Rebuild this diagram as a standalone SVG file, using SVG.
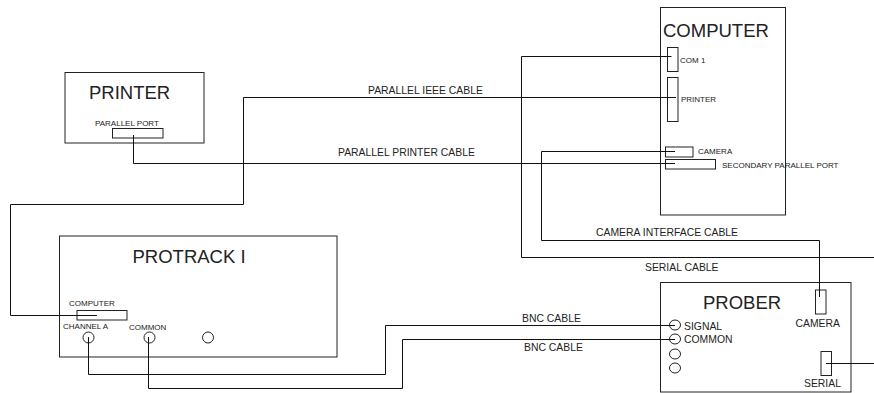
<svg xmlns="http://www.w3.org/2000/svg" width="874" height="393" viewBox="0 0 874 393">
<style>
.b{fill:none;stroke:#222;stroke-width:1}
.c{fill:none;stroke:#111;stroke-width:1}
text{font-family:"Liberation Sans",Arial,sans-serif;fill:#222}
.t{font-size:18.500px}
.s{font-size:8px}
.m{font-size:10.400px}
</style>
<rect width="874" height="393" fill="#fff"/>
<g id="computer">
<rect class="b" x="660.5" y="7.5" width="125" height="207.5"/>
<text class="t" x="663" y="37">COMPUTER</text>
<rect class="b" x="667.5" y="47.5" width="10.500" height="24"/>
<text class="s" x="680" y="63">COM 1</text>
<rect class="b" x="667.5" y="77.5" width="10.500" height="44"/>
<text class="s" x="681" y="102">PRINTER</text>
<rect class="b" x="665.500" y="147" width="27.500" height="10"/>
<text class="s" x="698" y="154">CAMERA</text>
<rect class="b" x="665.500" y="159.500" width="50" height="9.500"/>
<text class="s" x="722" y="168">SECONDARY PARALLEL PORT</text>
</g>
<g id="printer">
<rect class="b" x="65" y="72.500" width="139" height="70.500"/>
<text class="t" x="89" y="99">PRINTER</text>
<text class="s" x="95" y="126">PARALLEL PORT</text>
<rect class="b" x="112.500" y="128.500" width="50.500" height="9.500"/>
</g>
<g id="protrack">
<rect class="b" x="59.500" y="236" width="277.500" height="121"/>
<text class="t" x="132.500" y="263">PROTRACK I</text>
<text class="s" x="69" y="306">COMPUTER</text>
<rect class="b" x="77" y="310.500" width="50" height="9.500"/>
<text class="s" x="63" y="329">CHANNEL A</text>
<text class="s" x="129" y="330">COMMON</text>
<circle class="b" cx="88.500" cy="337.500" r="5.500"/>
<circle class="b" cx="149.500" cy="337.500" r="5.500"/>
<circle class="b" cx="208" cy="337.500" r="5.500"/>
</g>
<g id="prober">
<rect class="b" x="660.500" y="282.500" width="190.500" height="109.500"/>
<text class="t" x="703" y="309">PROBER</text>
<text class="m" x="684" y="330">SIGNAL</text>
<text class="m" x="684" y="343">COMMON</text>
<ellipse class="b" cx="675" cy="325" rx="5.500" ry="5"/>
<ellipse class="b" cx="675" cy="339" rx="5.500" ry="5"/>
<ellipse class="b" cx="675" cy="354" rx="5.500" ry="5"/>
<ellipse class="b" cx="675" cy="368" rx="5.500" ry="5"/>
<rect class="b" x="815.500" y="290" width="10.500" height="24"/>
<text class="m" x="795.500" y="327">CAMERA</text>
<rect class="b" x="821" y="351.500" width="10.500" height="24"/>
<text class="m" x="804" y="387">SERIAL</text>
</g>
<g id="connectors">
<path class="c" d="M671.500 56.500H521.500V257.500H874"/>
<path class="c" d="M676 97.500H243.500V204.500H10.500V315.500H97"/>
<path class="c" d="M675 151.500H541.500V240.500H819.500V297"/>
<path class="c" d="M675 163.500H133.500V135"/>
<path class="c" d="M88.500 337V374.500H385.500V325.500H675"/>
<path class="c" d="M148.500 337V388.500H402.500V339.500H675"/>
<path class="c" d="M826 363.500H874"/>
</g>
<g id="labels">
<text class="m" x="368" y="94">PARALLEL IEEE CABLE</text>
<text class="m" x="338" y="156">PARALLEL PRINTER CABLE</text>
<text class="m" x="596" y="236">CAMERA INTERFACE CABLE</text>
<text class="m" x="645" y="271">SERIAL CABLE</text>
<text class="m" x="522" y="322">BNC CABLE</text>
<text class="m" x="524" y="351">BNC CABLE</text>
</g>
</svg>
